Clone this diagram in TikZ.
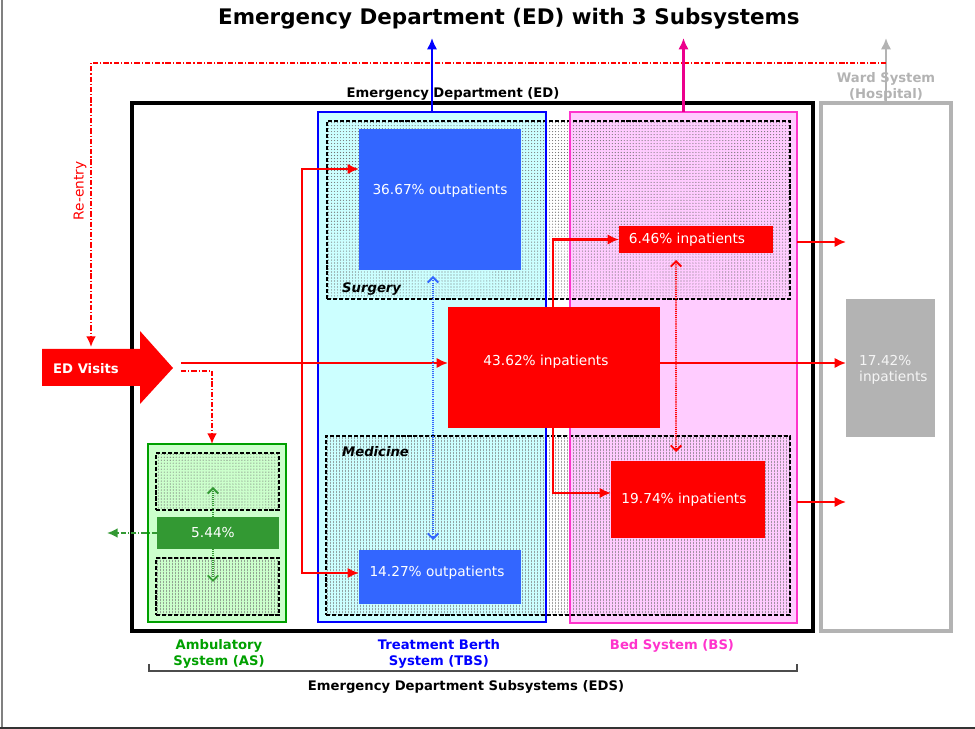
\documentclass[tikz,border=0pt]{standalone}
\usepackage{fontspec}
\setmainfont{DejaVu Sans}
\usetikzlibrary{arrows.meta}
\usetikzlibrary{patterns.meta}

\definecolor{edred}{HTML}{FF0000}
\definecolor{outblue}{HTML}{3366FF}
\definecolor{tbsfill}{HTML}{CCFFFF}
\definecolor{bsline}{HTML}{FF33CC}
\definecolor{bsfill}{HTML}{FFCCFF}
\definecolor{asline}{HTML}{00A000}
\definecolor{asfill}{HTML}{CCFFCC}
\definecolor{asdark}{HTML}{339933}
\definecolor{wardgray}{HTML}{B3B3B3}

\tikzdeclarepattern{
  name=finedots,
  type=uncolored,
  bottom left={(-0.5pt,-0.5pt)},
  top right={(1.2pt,1.2pt)},
  tile size={(1.7pt,1.7pt)},
  code={\pgfpathcircle{\pgfqpoint{0pt}{0pt}}{0.33pt}\pgfusepath{fill}}
}
\tikzdeclarepattern{
  name=finelines,
  type=uncolored,
  bottom left={(0pt,0pt)},
  top right={(1.4pt,1.4pt)},
  tile size={(1.4pt,1.4pt)},
  code={\pgfpathrectangle{\pgfqpoint{0pt}{0pt}}{\pgfqpoint{0.45pt}{1.4pt}}\pgfusepath{fill}}
}

\begin{document}
\begin{tikzpicture}[x=0.02cm, y=-0.02cm,
  pbox/.style={rectangle, inner sep=0pt, outer sep=0pt},
  wh/.style 2 args={minimum width=#1*0.02cm, minimum height=#2*0.02cm},
  txt/.style={font=\fontsize{7.8}{9.4}\selectfont, text=white},
  lbl/.style={font=\fontsize{7.5}{9}\selectfont\bfseries},
  subbox/.style={pbox, draw=black, line width=1.1pt, dash pattern=on 2.3pt off 1.1pt},
  lightdots/.style={pattern=finedots, pattern color=black!55},
  darkdots/.style={pattern=finelines, pattern color=black!55},
  flow/.style={edred, line width=1.5pt, -{Latex[length=6.5pt,width=6pt]}},
  reflow/.style={edred, line width=1.1pt, dash pattern=on 3pt off 1.1pt on 0.7pt off 1.1pt, -{Latex[length=6pt,width=5.5pt]}},
  twoway/.style={line width=1.1pt, dash pattern=on 0.6pt off 0.6pt, {Straight Barb[length=3pt,width=6pt]}-{Straight Barb[length=3pt,width=6pt]}},
  upflow/.style={line width=1.5pt, -{Latex[length=6.5pt,width=6pt]}}
]
  \useasboundingbox (0,0) rectangle (975,729);
  \draw[gray, line width=0.6pt] (2,0) -- (2,729);
  \draw[black!80, line width=0.8pt] (0,728) -- (975,728);

  \node[font=\fontsize{12.2}{14}\selectfont\bfseries] (title) at (509,19) {Emergency Department (ED) with 3 Subsystems};

  \node[pbox, wh={681}{528}, draw, line width=2.2pt] (ed) at (472.5,367) {};
  \node[lbl] (edlbl) at (453,94) {Emergency Department (ED)};
  \node[pbox, wh={130}{528}, draw=wardgray, line width=2pt] (ward) at (886,367) {};
  \node[lbl, text=wardgray, align=center] (wardlbl) at (886,87) {Ward System\\(Hospital)};

  \node[pbox, wh={228}{510}, fill=tbsfill] (tbs) at (432,367) {};
  \node[pbox, wh={227}{511}, fill=bsfill] (bs) at (683.5,367.5) {};
  \node[pbox, wh={138}{178}, fill=asfill] (as) at (217,533) {};

  \node[subbox, lightdots, wh={463}{178}] (surgery) at (558.5,210) {};
  \node[subbox, darkdots, wh={464}{179}] (medicine) at (558,525.5) {};
  \node[subbox, lightdots, wh={123}{57}] (asup) at (217.5,481.5) {};
  \node[subbox, darkdots, wh={123}{57}] (aslow) at (217.5,586.5) {};
  \node[font=\fontsize{7.5}{9}\selectfont\bfseries\itshape, anchor=west] (surglbl) at (336,289) {Surgery};
  \node[font=\fontsize{7.5}{9}\selectfont\bfseries\itshape, anchor=west] (medlbl) at (336,452) {Medicine};

  \draw[blue, line width=1.3pt] (tbs.north west) rectangle (tbs.south east);
  \draw[bsline, line width=1.3pt] (bs.north west) rectangle (bs.south east);
  \draw[asline, line width=1.3pt] (as.north west) rectangle (as.south east);

  \node[pbox, wh={162}{141}, fill=outblue, label={[txt, yshift=0.17cm]center:36.67\% outpatients}] (surg) at (440,199.5) {};
  \node[pbox, wh={162}{54}, fill=outblue, label={[txt, xshift=-0.06cm, yshift=0.08cm]center:14.27\% outpatients}] (fourteen) at (440,577) {};
  \node[pbox, wh={212}{121}, fill=edred, label={[txt, xshift=-0.16cm, yshift=0.11cm]center:43.62\% inpatients}] (big) at (554,367.5) {};
  \node[pbox, wh={154}{27}, fill=edred, label={[txt, xshift=-0.18cm]center:6.46\% inpatients}] (six) at (696,239.5) {};
  \node[pbox, wh={154}{77}, fill=edred, label={[txt, xshift=-0.08cm]center:19.74\% inpatients}] (nineteen) at (688,499.5) {};
  \node[pbox, wh={89}{138}, fill=wardgray] (ward17) at (890.5,368) {};
  \node[txt, text=white!92!gray, align=left, anchor=west] (ward17t) at (853,370) {17.42\%\\inpatients};
  \node[pbox, wh={122}{32}, fill=asdark, label={[txt, xshift=-0.1cm]center:5.44\%}] (five) at (218,533) {};

  \fill[edred] (42,349) -- (140,349) -- (140,331) -- (173,368) -- (140,404) -- (140,386) -- (42,386) -- cycle;
  \node[lbl, text=white] (visits) at (86,369) {ED Visits};

  \coordinate (vout) at (181,363);
  \coordinate (split) at (302,363);
  \coordinate (wardout) at (886,38);
  \coordinate (reent) at (91,63);
  \coordinate (vtop) at (91,347);

  \draw[flow] (vout) -- (vout -| big.west);
  \draw[flow] (big.east |- vout) -- (vout -| ward17.west);
  \draw[flow] (split) |- ([yshift=0.61cm]surg.west);
  \draw[flow] (split) |- ([yshift=0.08cm]fourteen.west);
  \draw[flow] ([xshift=2.1cm]big.north west) |- (six.west);
  \draw[flow] ([xshift=2.1cm]big.south west) |- ([yshift=0.13cm]nineteen.west);
  \draw[flow] ([yshift=-0.05cm]six -| bs.east) -- ([yshift=-0.05cm]six -| ward17.west);
  \draw[flow] ([yshift=-0.05cm]nineteen -| bs.east) -- ([yshift=-0.05cm]nineteen -| ward17.west);
  \draw[reflow] ([yshift=-0.16cm]vout) -| ([xshift=-0.1cm]as.north);

  \draw[wardgray, upflow] (ward.north) -- (wardout);
  \draw[reflow] (ward.north |- reent) -- (reent) -- (vtop);
  \node[txt, text=edred, rotate=90] (reentry) at (80,191) {Re-entry};
  \foreach \b/\c in {tbs/blue, bs/magenta}
    \draw[\c, upflow] (\b.north) -- (\b.north |- wardout);

  \draw[twoway, outblue] ([xshift=-0.14cm, yshift=-0.12cm]surg.south) -- ([xshift=-0.14cm, yshift=0.2cm]fourteen.north);
  \draw[twoway, edred] ([xshift=-0.4cm, yshift=-0.14cm]six.south) -- ([xshift=-0.24cm, yshift=0.18cm]nineteen.north);
  \draw[asdark, line width=1.1pt, dash pattern=on 0.6pt off 0.6pt, -{Straight Barb[length=3pt,width=6pt]}] ([xshift=-0.1cm]five.north) -- ++(0,-30);
  \draw[asdark, line width=1.1pt, dash pattern=on 0.6pt off 0.6pt, -{Straight Barb[length=3pt,width=6pt]}] ([xshift=-0.1cm]five.south) -- ++(0,33);
  \draw[asdark, line width=1.1pt, dash pattern=on 3pt off 1.1pt on 0.7pt off 1.1pt, -{Latex[length=6pt,width=5.5pt]}] (five.west) -- ++(-50,0);

  \node[lbl, text=asline, align=center] (aslbl) at (219,654) {Ambulatory\\System (AS)};
  \node[lbl, text=blue, align=center] (tbslbl) at (439,654) {Treatment Berth\\System (TBS)};
  \node[lbl, text=bsline] (bslbl) at (672,646) {Bed System (BS)};
  \draw[black!70, line width=0.6pt] (149,664) -- (149,671) -- (797,671) -- (797,664);
  \node[lbl] (edslbl) at (466,687) {Emergency Department Subsystems (EDS)};
\end{tikzpicture}
\end{document}
